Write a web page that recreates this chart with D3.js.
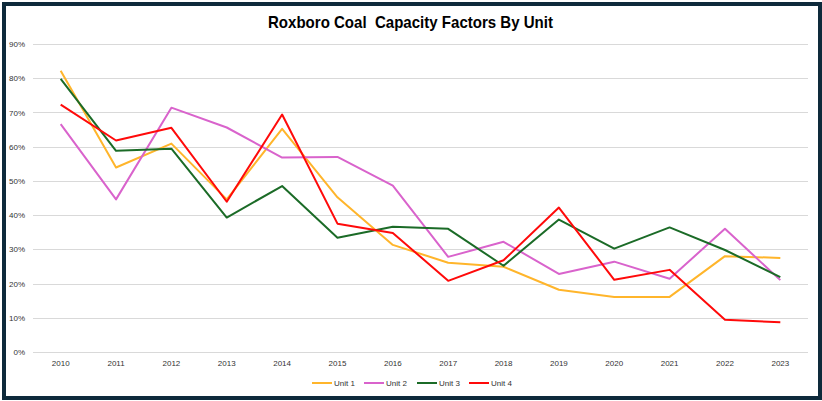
<!DOCTYPE html>
<html>
<head>
<meta charset="utf-8">
<script src="https://cdn.jsdelivr.net/npm/d3@7"></script>
<style>
  html, body { margin: 0; padding: 0; background: #fff; }
  svg { display: block; }
</style>
</head>
<body>
<div id="chart"></div>
<script>
const width = 822;
const height = 401;

// chart data
const years = ["2010", "2011", "2012", "2013", "2014", "2015", "2016", "2017", "2018", "2019", "2020", "2021", "2022", "2023"];
const unit1 = [82.2, 53.9, 60.9, 44.6, 65.2, 45.2, 31.3, 26.1, 24.9, 18.2, 16.1, 16.1, 28.0, 27.5];
const unit2 = [66.6, 44.6, 71.4, 65.6, 56.8, 57.0, 48.6, 27.8, 32.2, 22.8, 26.4, 21.4, 36.0, 21.0];
const unit3 = [79.8, 58.8, 59.4, 39.3, 48.5, 33.4, 36.6, 36.0, 25.2, 38.7, 30.2, 36.4, 29.8, 21.9];
const unit4 = [72.3, 61.8, 65.5, 43.9, 69.4, 37.5, 34.8, 20.8, 26.8, 42.2, 21.1, 24.0, 9.4, 8.7];
const seriesNames = ["Unit 1", "Unit 2", "Unit 3", "Unit 4"];
const yTicks = [0, 10, 20, 30, 40, 50, 60, 70, 80, 90];

const colors = ["#FFB52B", "#D963CC", "#1B6B27", "#FF0A0A"];
const series = [unit1, unit2, unit3, unit4];

const plotLeft = 33, plotRight = 808, plotTop = 44, plotBottom = 352;

const svg = d3.select("#chart")
    .append("svg")
    .attr("width", width)
    .attr("height", height);

svg.append("rect")
    .attr("width", width)
    .attr("height", height)
    .attr("fill", "#fff");

const x = d3.scaleBand()
    .domain(years)
    .range([plotLeft, plotRight]);

const y = d3.scaleLinear()
    .domain([0, 90])
    .range([plotBottom, plotTop]);

// gridlines
svg.append("g")
    .selectAll("line")
    .data(yTicks)
    .join("line")
    .attr("x1", plotLeft)
    .attr("x2", plotRight)
    .attr("y1", d => Math.round(y(d)) + 0.5)
    .attr("y2", d => Math.round(y(d)) + 0.5)
    .attr("stroke", "#d9d9d9")
    .attr("stroke-width", 1);

// y labels
const yAxis = d3.axisLeft(y)
    .tickValues(yTicks)
    .tickFormat(d => d + "%")
    .tickSize(0)
    .tickPadding(8);

svg.append("g")
    .attr("transform", `translate(${plotLeft},0)`)
    .call(yAxis)
    .call(g => g.select(".domain").remove())
    .selectAll("text")
    .attr("fill", "#333")
    .style("font-family", "'Liberation Sans', Arial, sans-serif")
    .style("font-size", "8px");

// x labels
const xAxis = d3.axisBottom(x).tickSize(0).tickPadding(8);

svg.append("g")
    .attr("transform", `translate(0,${plotBottom})`)
    .call(xAxis)
    .call(g => g.select(".domain").remove())
    .selectAll("text")
    .attr("fill", "#333")
    .style("font-family", "'Liberation Sans', Arial, sans-serif")
    .style("font-size", "8px");

// lines
const line = d3.line()
    .x((d, i) => x(years[i]) + x.bandwidth() / 2)
    .y(d => y(d));

svg.append("g")
    .selectAll("path")
    .data(series)
    .join("path")
    .attr("d", line)
    .attr("fill", "none")
    .attr("stroke", (d, i) => colors[i])
    .attr("stroke-width", 2)
    .attr("stroke-linejoin", "round");

// legend
const legendX = [312, 364, 417, 469];
const legend = svg.append("g")
    .selectAll("g")
    .data(seriesNames)
    .join("g")
    .attr("transform", (d, i) => `translate(${legendX[i]},383)`);

legend.append("line")
    .attr("x1", 0)
    .attr("x2", 20)
    .attr("stroke", (d, i) => colors[i])
    .attr("stroke-width", 2);

legend.append("text")
    .attr("x", 22)
    .attr("dy", "0.35em")
    .attr("fill", "#333")
    .style("font-family", "'Liberation Sans', Arial, sans-serif")
    .style("font-size", "8px")
    .text(d => d);

// title
svg.append("text")
    .attr("x", 268)
    .attr("y", 27.5)
    .attr("textLength", 285)
    .attr("lengthAdjust", "spacingAndGlyphs")
    .attr("fill", "#000")
    .style("font-family", "'Liberation Sans', Arial, sans-serif")
    .style("font-weight", "bold")
    .style("font-size", "17px")
    .style("white-space", "pre")
    .text("Roxboro Coal  Capacity Factors By Unit");

// frame
svg.append("rect")
    .attr("x", 4)
    .attr("y", 4)
    .attr("width", 816)
    .attr("height", 394)
    .attr("fill", "none")
    .attr("stroke", "#0E2A3B")
    .attr("stroke-width", 4);
</script>
</body>
</html>
